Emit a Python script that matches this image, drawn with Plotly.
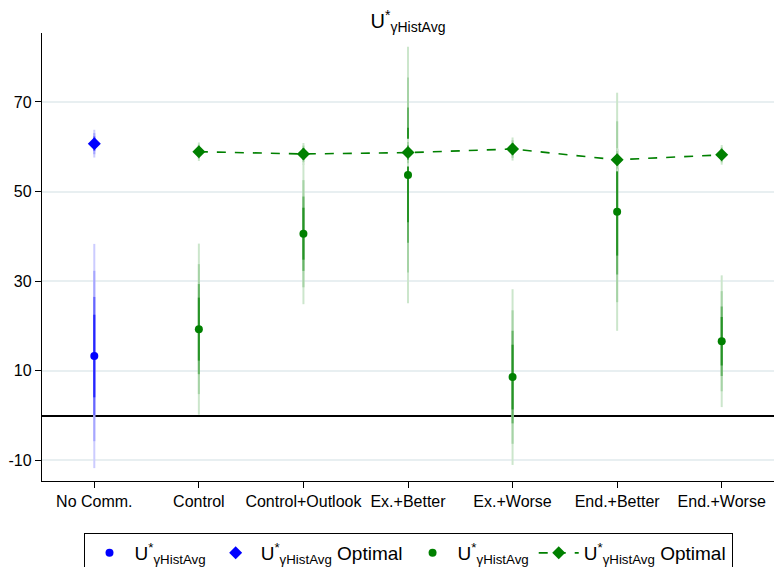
import plotly.graph_objects as go

categories = ["No Comm.", "Control", "Control+Outlook", "Ex.+Better",
              "Ex.+Worse", "End.+Better", "End.+Worse"]

# no-communication treatment (blue)
base_est = [13.3]
base_se = [9.7]
base_opt = [60.7]
base_opt_se = [1.2]

# communication treatments (green)
treat_est = [19.3, 40.6, 53.7, 8.6, 45.5, 16.6]
treat_se = [7.4, 6.1, 11.1, 7.6, 10.3, 5.7]
treat_opt = [58.9, 58.4, 58.7, 59.5, 57.1, 58.2]
treat_opt_se = [0.8, 0.95, 1.2, 1.0, 1.0, 0.85]

y_ticks = [-10, 10, 30, 50, 70]
y_ticklabels = ["-10", "10", "30", "50", "70"]

# z for the graded intervals, outer to inner, and their shading
z_levels = [2.58, 1.96, 1.36, 0.95]
shades = [0.2, 0.35, 0.6, 0.85]

BLUE = (0, 0, 255)
GREEN = (0, 128, 0)
label = "U<sup>*</sup><sub>γHistAvg</sub>"


def tint(rgb, a):
    r, g, b = [int(round(255 * (1 - a) + c * a)) for c in rgb]
    return f"rgb({r},{g},{b})"


def add_ci(fig, xs, est, se, rgb, width=2):
    # outer (light) first, inner (dark) drawn on top
    for z, a in zip(z_levels, shades):
        xx, yy = [], []
        for x, m, s in zip(xs, est, se):
            xx += [x, x, None]
            yy += [m - z * s, m + z * s, None]
        fig.add_trace(go.Scatter(x=xx, y=yy, mode="lines", showlegend=False,
                                 hoverinfo="skip",
                                 line=dict(color=tint(rgb, a), width=width)))


fig = go.Figure()
x_base = [categories[0]]
x_treat = categories[1:]

add_ci(fig, x_base, base_est, base_se, BLUE)
add_ci(fig, x_base, base_opt, base_opt_se, BLUE)
add_ci(fig, x_treat, treat_est, treat_se, GREEN)
add_ci(fig, x_treat, treat_opt, treat_opt_se, GREEN)

fig.add_trace(go.Scatter(x=x_base, y=base_est, mode="markers", name=label,
                         marker=dict(color="rgb(0,0,255)", size=8, symbol="circle")))
fig.add_trace(go.Scatter(x=x_base, y=base_opt, mode="markers", name=label + " Optimal",
                         marker=dict(color="rgb(0,0,255)", size=10, symbol="diamond")))
fig.add_trace(go.Scatter(x=x_treat, y=treat_est, mode="markers", name=label,
                         marker=dict(color="rgb(0,128,0)", size=8, symbol="circle")))
fig.add_trace(go.Scatter(x=x_treat, y=treat_opt, mode="lines+markers",
                         name=label + " Optimal",
                         line=dict(color="rgb(0,128,0)", width=1.6, dash="dash"),
                         marker=dict(color="rgb(0,128,0)", size=10, symbol="diamond")))

fig.update_layout(
    width=774, height=567,
    margin=dict(l=42, r=0, t=33, b=86),
    paper_bgcolor="white", plot_bgcolor="white",
    font=dict(family="Liberation Sans, Arial, sans-serif", size=16, color="black"),
    title=dict(text=label, x=0.5, xref="paper", y=0.975, yanchor="top",
               font=dict(size=20)),
    showlegend=True,
    legend=dict(orientation="h", x=0.5, xanchor="center",
                y=0.06, yref="container", yanchor="top",
                bordercolor="black", borderwidth=1, bgcolor="white",
                font=dict(size=19), itemwidth=40),
)
fig.update_xaxes(type="category", range=[-0.5, 6.5], showline=True, linecolor="black",
                 linewidth=1.3, ticks="outside", ticklen=6, tickcolor="black",
                 showgrid=False, tickfont=dict(size=16), automargin=False)
fig.update_yaxes(range=[-14.6, 85.4], tickvals=y_ticks, ticktext=y_ticklabels,
                 showline=True, linecolor="black", linewidth=1.3,
                 ticks="outside", ticklen=6, tickcolor="black",
                 showgrid=True, gridcolor="#e8eff1", gridwidth=1.5,
                 zeroline=True, zerolinecolor="black", zerolinewidth=1.5,
                 tickfont=dict(size=16), automargin=False)

# page has a default 8px body margin; drop it so the figure fills the window
fig.write_html("out.html", config={"displayModeBar": False},
               post_script="document.body.style.margin='0';")
